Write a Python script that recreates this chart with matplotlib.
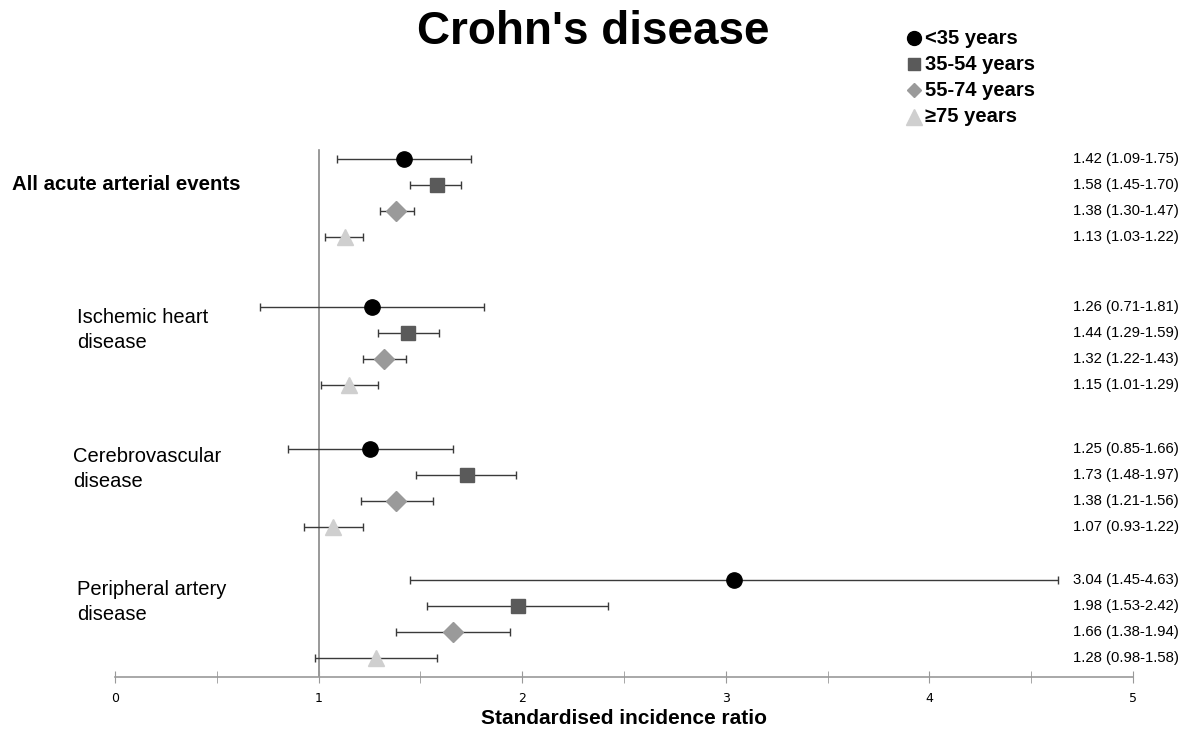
import matplotlib.pyplot as plt

# data
outcomes = ["All acute arterial events", "Ischemic heart\ndisease",
            "Cerebrovascular\ndisease", "Peripheral artery\ndisease"]
age_groups = ["<35 years", "35-54 years", "55-74 years", "\u226575 years"]

sir = [[1.42, 1.58, 1.38, 1.13],
       [1.26, 1.44, 1.32, 1.15],
       [1.25, 1.73, 1.38, 1.07],
       [3.04, 1.98, 1.66, 1.28]]
lower = [[1.09, 1.45, 1.30, 1.03],
         [0.71, 1.29, 1.22, 1.01],
         [0.85, 1.48, 1.21, 0.93],
         [1.45, 1.53, 1.38, 0.98]]
upper = [[1.75, 1.70, 1.47, 1.22],
         [1.81, 1.59, 1.43, 1.29],
         [1.66, 1.97, 1.56, 1.22],
         [4.63, 2.42, 1.94, 1.58]]

# styles
markers = ["o", "s", "D", "^"]
colors = ["#000000", "#5a5a5a", "#9a9a9a", "#cfcfcf"]
msizes = [11, 10, 10, 12]

W, H = 1191, 733
fig = plt.figure(figsize=(W / 100, H / 100), dpi=100)

# axes placed in pixel terms: x=0 at 115px, x=5 at 1133px, bottom spine at 677px
top_px, bot_px = 140, 677
ax = fig.add_axes([115 / W, 1 - bot_px / H, (1133 - 115) / W, (bot_px - top_px) / H])
ax.set_xlim(0, 5)
ax.set_ylim(bot_px, top_px)

group_top = [159, 307, 449, 580]
row_gap = 26

for g in range(4):
    for k in range(4):
        y = group_top[g] + k * row_gap
        x = sir[g][k]
        ax.errorbar(x, y, xerr=[[x - lower[g][k]], [upper[g][k] - x]],
                    fmt="none", ecolor="#3a3a3a", elinewidth=1, capsize=3,
                    capthick=1, zorder=2)
        ax.plot(x, y, marker=markers[k], color=colors[k], markersize=msizes[k],
                linestyle="none", zorder=3)
        lab = "%.2f (%.2f-%.2f)" % (sir[g][k], lower[g][k], upper[g][k])
        fig.text(1179 / W, 1 - y / H, lab, ha="right", va="center", fontsize=10.7,
                 family="Liberation Sans")

ax.axvline(1, ymin=0, ymax=(bot_px - 150) / (bot_px - top_px), color="#888888", lw=1.2, zorder=1)

# outcome labels
label_pos = [(12, 184), (77, 330), (73, 469), (77, 602)]
for i, name in enumerate(outcomes):
    fx, fy = label_pos[i]
    fig.text(fx / W, 1 - fy / H, name, ha="left", va="center",
             fontsize=14.7 if i == 0 else 14.5, fontweight="bold" if i == 0 else "normal",
             family="Liberation Sans", linespacing=1.42)

# spines and ticks
for s in ["top", "right", "left"]:
    ax.spines[s].set_visible(False)
ax.spines["bottom"].set_color("#999999")
ax.spines["bottom"].set_linewidth(1.2)
ax.set_yticks([])
ax.set_xticks([0, 1, 2, 3, 4, 5])
ax.set_xticks([0.5, 1.5, 2.5, 3.5, 4.5], minor=True)
ax.tick_params(axis="x", which="both", direction="inout", length=8, color="#999999",
               labelsize=9, pad=7)
ax.set_xlabel("Standardised incidence ratio", fontsize=15, fontweight="bold",
              family="Liberation Sans", labelpad=3)

fig.text(593 / W, 1 - 32 / H, "Crohn's disease", ha="center", va="center",
         fontsize=33, fontweight="bold", family="Liberation Sans")

# legend
leg_y = [38, 64, 90, 117]
for k in range(4):
    fig.lines.append(plt.Line2D([914 / W], [1 - leg_y[k] / H], marker=markers[k],
                                color=colors[k], markersize=msizes[k] - 1 if k != 2 else 7,
                                linestyle="none", transform=fig.transFigure))
    fig.text(925 / W, 1 - leg_y[k] / H, age_groups[k], ha="left", va="center",
             fontsize=14.5, fontweight="bold", family=["Liberation Sans", "DejaVu Sans"])

fig.savefig("out.png", dpi=100)
